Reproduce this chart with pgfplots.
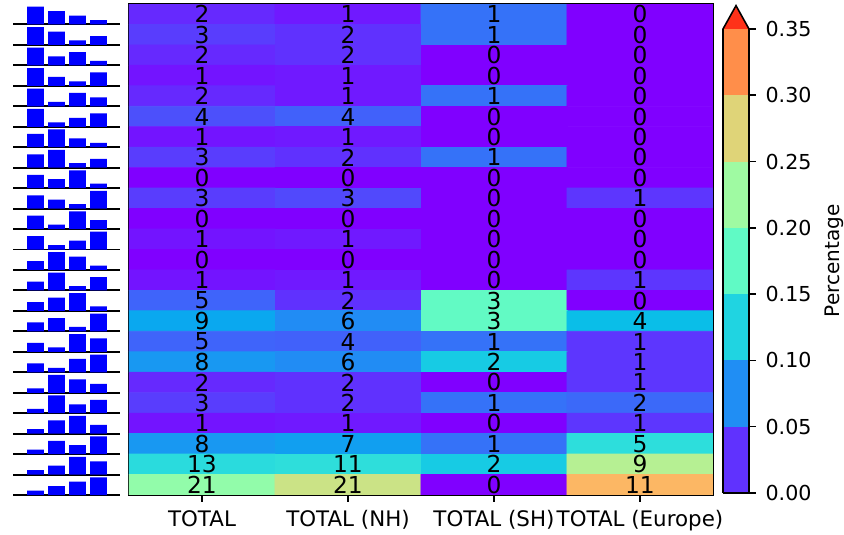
\documentclass[border=0pt]{standalone}
\usepackage{pgfplots}
\pgfplotsset{compat=1.18}
\usepackage{pgfplotstable}
\usepackage{fontspec}
\setmainfont{DejaVu Sans}

\definecolor{c0}{RGB}{96,50,254}
\definecolor{c1}{RGB}{32,142,244}
\definecolor{c2}{RGB}{32,212,225}
\definecolor{c3}{RGB}{96,250,197}
\definecolor{c4}{RGB}{159,250,162}
\definecolor{c5}{RGB}{223,212,120}
\definecolor{c6}{RGB}{255,142,74}
\definecolor{c7}{RGB}{255,50,25}

% x y count percentage
\pgfplotstableread{
x y c p
0 23 2 0.0204
1 23 1 0.0123
2 23 1 0.0588
3 23 0 0
0 22 3 0.0306
1 22 2 0.0247
2 22 1 0.0588
3 22 0 0
0 21 2 0.0204
1 21 2 0.0247
2 21 0 0
3 21 0 0
0 20 1 0.0102
1 20 1 0.0123
2 20 0 0
3 20 0 0
0 19 2 0.0204
1 19 1 0.0123
2 19 1 0.0588
3 19 0 0
0 18 4 0.0408
1 18 4 0.0494
2 18 0 0
3 18 0 0
0 17 1 0.0102
1 17 1 0.0123
2 17 0 0
3 17 0 0
0 16 3 0.0306
1 16 2 0.0247
2 16 1 0.0588
3 16 0 0
0 15 0 0
1 15 0 0
2 15 0 0
3 15 0 0
0 14 3 0.0306
1 14 3 0.0370
2 14 0 0
3 14 1 0.0270
0 13 0 0
1 13 0 0
2 13 0 0
3 13 0 0
0 12 1 0.0102
1 12 1 0.0123
2 12 0 0
3 12 0 0
0 11 0 0
1 11 0 0
2 11 0 0
3 11 0 0
0 10 1 0.0102
1 10 1 0.0123
2 10 0 0
3 10 1 0.0270
0 9 5 0.0510
1 9 2 0.0247
2 9 3 0.1765
3 9 0 0
0 8 9 0.0918
1 8 6 0.0741
2 8 3 0.1765
3 8 4 0.1081
0 7 5 0.0510
1 7 4 0.0494
2 7 1 0.0588
3 7 1 0.0270
0 6 8 0.0816
1 6 6 0.0741
2 6 2 0.1176
3 6 1 0.0270
0 5 2 0.0204
1 5 2 0.0247
2 5 0 0
3 5 1 0.0270
0 4 3 0.0306
1 4 2 0.0247
2 4 1 0.0588
3 4 2 0.0541
0 3 1 0.0102
1 3 1 0.0123
2 3 0 0
3 3 1 0.0270
0 2 8 0.0816
1 2 7 0.0864
2 2 1 0.0588
3 2 5 0.1351
0 1 13 0.1327
1 1 11 0.1358
2 1 2 0.1176
3 1 9 0.2432
0 0 21 0.2143
1 0 21 0.2593
2 0 0 0
3 0 11 0.2973
}\heat

\begin{document}
\begin{tikzpicture}
\useasboundingbox (0,0) rectangle (434.07pt,275.15pt);

% ---- heatmap ----
\begin{axis}[
  at={(66.34pt,20.57pt)}, anchor=south west,
  scale only axis, width=300.35pt, height=252.52pt,
  xmin=-0.5, xmax=3.5, ymin=-0.5, ymax=23.5,
  enlargelimits=false,
  xtick={0,1,2,3},
  xticklabels={TOTAL, TOTAL (NH), TOTAL (SH), TOTAL (Europe)},
  ytick=\empty,
  xtick pos=left, tick align=outside,
  major tick length=3.5pt,
  tick style={black, line width=0.8pt},
  axis line style={line width=0.8pt, black},
  ticklabel style={font=\fontsize{11}{12}\selectfont},
  xticklabel style={yshift=-1pt},
  colormap={rb}{rgb255=(128,0,255) rgb255=(96,50,254) rgb255=(64,98,250) rgb255=(32,142,244) rgb255=(0,180,236) rgb255=(32,212,225) rgb255=(64,236,212) rgb255=(96,250,197) rgb255=(128,255,180) rgb255=(159,250,162) rgb255=(191,236,142) rgb255=(223,212,120) rgb255=(255,180,98) rgb255=(255,142,74) rgb255=(255,98,50) rgb255=(255,50,25) rgb255=(255,0,0)},
  point meta min=0, point meta max=0.40,
]
\addplot[matrix plot*, mesh/cols=4, point meta=explicit] table[x=x, y=y, meta=p] {\heat};
\addplot[only marks, mark=none, point meta=explicit symbolic,
  nodes near coords,
  every node near coord/.append style={anchor=center, font=\fontsize{12}{14}\selectfont, text=black, inner sep=0pt}]
  table[x=x, y=y, meta=c] {\heat};
\end{axis}

% ---- glyphs ----
\foreach \r/\a/\b/\c/\d in {1/4/3/2/1, 2/4/3/1/2, 3/4/2/3/1, 4/4/2/1/3, 5/4/1/3/2, 6/4/1/2/3,
  7/3/4/2/1, 8/3/4/1/2, 9/3/2/4/1, 10/3/2/1/4, 11/3/1/4/2, 12/3/1/2/4,
  13/2/4/3/1, 14/2/4/1/3, 15/2/3/4/1, 16/2/3/1/4, 17/2/1/4/3, 18/2/1/3/4,
  19/1/4/3/2, 20/1/4/2/3, 21/1/3/4/2, 22/1/3/2/4, 23/1/2/4/3, 24/1/2/3/4} {
\begin{axis}[
  at={(6.69pt,{273.09pt-\r*10.523pt})}, anchor=south west,
  scale only axis, width=55.03pt, height=10.523pt,
  xmin=-0.071, xmax=5.024, ymin=0, ymax=4.6,
  axis x line=bottom, axis y line=none,
  xtick=\empty, ytick=\empty,
  x axis line style={-, line width=1pt, black},
  ybar, bar width=8.74pt,
]
\edef\temp{\noexpand\addplot[fill=blue, draw=none] coordinates {(1,\a) (2,\b) (3,\c) (4,\d)};}\temp
\end{axis}
}

% ---- colorbar ----
\begin{axis}[
  at={(371.84pt,21.60pt)}, anchor=south west,
  scale only axis, width=13.37pt, height=238.64pt,
  xmin=0, xmax=1, ymin=0, ymax=0.35,
  enlargelimits=false, clip=false,
  xtick=\empty,
  ytick={0,0.05,0.10,0.15,0.20,0.25,0.30,0.35},
  ytick pos=right, yticklabel pos=right,
  tick align=outside, major tick length=3.5pt,
  tick style={black, line width=0.8pt},
  axis line style={draw=none},
  yticklabel style={font=\fontsize{10.6}{12}\selectfont, xshift=1.5pt, /pgf/number format/.cd, fixed, fixed zerofill, precision=2, assume math mode=true},
  ylabel={Percentage},
  ylabel style={font=\fontsize{10.3}{12}\selectfont, yshift=0pt},
]
\addplot[fill=c0, draw=none] coordinates {(0,0) (1,0) (1,0.05) (0,0.05)};
\addplot[fill=c1, draw=none] coordinates {(0,0.05) (1,0.05) (1,0.10) (0,0.10)};
\addplot[fill=c2, draw=none] coordinates {(0,0.10) (1,0.10) (1,0.15) (0,0.15)};
\addplot[fill=c3, draw=none] coordinates {(0,0.15) (1,0.15) (1,0.20) (0,0.20)};
\addplot[fill=c4, draw=none] coordinates {(0,0.20) (1,0.20) (1,0.25) (0,0.25)};
\addplot[fill=c5, draw=none] coordinates {(0,0.25) (1,0.25) (1,0.30) (0,0.30)};
\addplot[fill=c6, draw=none] coordinates {(0,0.30) (1,0.30) (1,0.35) (0,0.35)};
\addplot[fill=c7, draw=none] coordinates {(0,0.35) (0.5,0.3676) (1,0.35)};
\addplot[draw=black, line width=0.8pt, line join=miter, fill=none] coordinates {(0,0) (0,0.35) (0.5,0.3676) (1,0.35) (1,0) (0,0)};
\end{axis}
\end{tikzpicture}
\end{document}
